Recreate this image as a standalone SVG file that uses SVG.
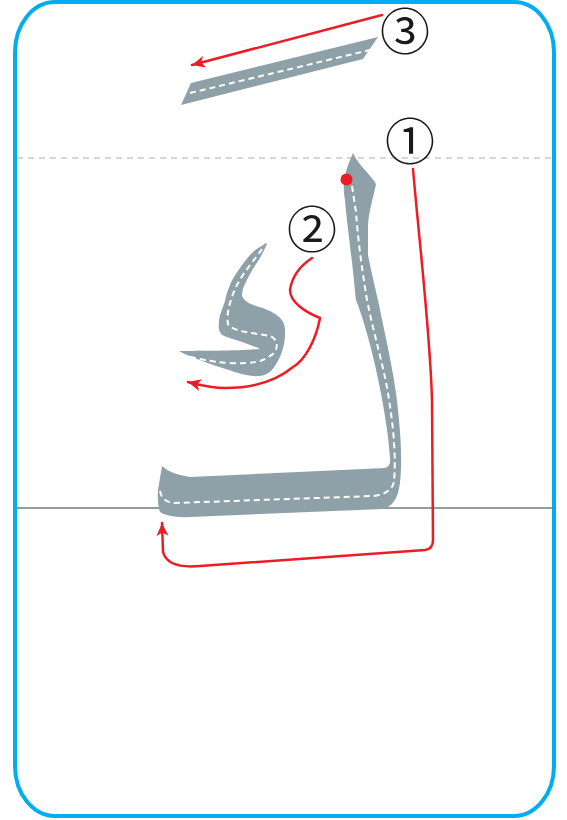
<svg xmlns="http://www.w3.org/2000/svg" width="567" height="820" viewBox="0 0 567 820">
<defs>
<style>
.shape{fill:#8fa1a8;stroke:none}
.center{fill:none;stroke:#ffffff;stroke-width:2;stroke-dasharray:6 4}
.red{fill:none;stroke:#ed1c24;stroke-width:2.5;stroke-linecap:round;stroke-linejoin:round}
.num{font-family:"Noto Sans CJK SC","DejaVu Sans",sans-serif;font-size:50px;fill:#1a1a1a;text-anchor:middle}
</style>
<marker id="arr" markerUnits="userSpaceOnUse" markerWidth="16" markerHeight="14" refX="13" refY="6" orient="auto">
<path d="M0,0 L13,6 L0,12 L3.5,6 z" fill="#ed1c24"/>
</marker>
</defs>
<rect width="567" height="820" fill="#ffffff"/>
<rect x="15" y="2" width="539" height="814" rx="40" ry="50" fill="none" stroke="#00aeef" stroke-width="4"/>
<g id="guides">
<line x1="17" y1="158" x2="553" y2="158" stroke="#a9b0b3" stroke-width="1.2" stroke-dasharray="6 5"/>
<line x1="17" y1="508" x2="553" y2="508" stroke="#6f7b80" stroke-width="1.5"/>
</g>
<g id="stroke3">
<polygon class="shape" points="181,105 191,83 378,37 363,59"/>
<line class="center" x1="190" y1="93" x2="370" y2="50"/>
</g>
<g id="stroke1">
<path class="shape" d="M353,153 C358,165 372,176 376,184 C374,195 369,210 368,225 L368,255 C372,275 377,295 378,300 C386,340 396,380 399,420 C402,450 402,480 398,493 Q394,506 383,509 L190,517 Q168,518 160,512 Q157,503 158,490 L162,466 Q170,474 190,477 L385,468 Q391,466 390,458 C388,420 372,340 356,300 C354,280 352,260 351,255 C349,235 346,215 345,200 C343,190 343,180 348,165 Z"/>
<path class="center" d="M352,186 L356,212 C358,240 362,270 367,300 C375,340 385,370 389,400 C394,430 396,460 394,482 Q391,494 373,496 L175,503 Q161,502 160,490"/>
<circle cx="346.5" cy="179.5" r="6" fill="#ed1c24"/>
</g>
<g id="stroke2">
<path class="shape" d="M266,243 C262,246 256,249 253,252 C248,257 244,262 240,268 C236,274 232,279 230,285 C227,292 226,296 225,301 C222,310 219,316 219,322 C218,330 220,334 224,336 C235,340 250,344 260,349 C240,351 200,351 179,351 C190,357 215,366 235,372 C250,377 262,378 270,372 C280,362 286,345 285,330 C285,318 275,313 263,308 C253,305 245,303 242,296 C242,290 244,285 248,278 C252,270 256,264 260,258 C263,252 266,247 267,244 Z"/>
<path class="center" d="M262,249 C256,258 242,274 236,287 C230,300 226,315 228,324 C232,332 255,333 270,336 C280,340 278,352 270,356 C262,362 250,364 230,363 C210,362 195,358 187,356"/>
</g>
<g id="connectors">
<path class="red" d="M382,15 L192,65" marker-end="url(#arr)"/>
<path class="red" d="M413,169 C420,250 430,330 432,400 L433,540 Q433,549 425,550 L200,566 C178,568 166,563 163,552 L162,523" marker-end="url(#arr)"/>
<path class="red" d="M312,258 C300,266 292,276 290,290 C290,302 305,312 320,318 C316,340 305,360 293,367 C275,382 250,388 225,388 C210,388 200,385 188,382" marker-end="url(#arr)"/>
</g>
<g id="labels">
<text class="num" x="405" y="50">③</text>
<text class="num" x="410" y="160">①</text>
<text class="num" x="312" y="248">②</text>
</g>
</svg>
